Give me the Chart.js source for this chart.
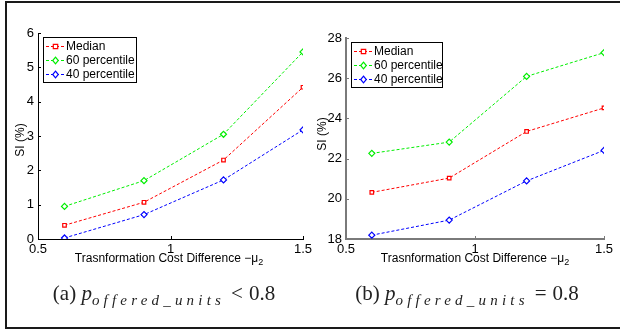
<!DOCTYPE html>
<html>
<head>
<meta charset="utf-8">
<script src="https://cdn.jsdelivr.net/npm/chart.js@4/dist/chart.umd.min.js"></script>
<style>
  html, body { margin:0; padding:0; background:#fff; }
  #wrap { position:relative; width:620px; height:331px; overflow:hidden; font-family:"Liberation Sans", Arial, sans-serif; }
  canvas { position:absolute; top:0; }
  #frame { position:absolute; left:5px; top:1px; width:640px; height:328px; border-top:2px solid #1a1a1a; border-left:2px solid #1a1a1a; border-bottom:2px solid #1a1a1a; box-sizing:border-box; }
  .xt { position:absolute; font-size:12px; color:#000; white-space:nowrap; transform:translateX(-50%); }
  .xt sub { font-size:9px; vertical-align:-3px; }
  .yt { position:absolute; font-size:12px; color:#000; white-space:nowrap; transform:translate(-50%,-50%) rotate(-90deg); }
  .cap { position:absolute; font-family:"Liberation Serif","DejaVu Serif",serif; font-size:21px; color:#222; white-space:nowrap; transform:translateX(-50%); }
  .cap i { font-style:italic; }
  .cap .sb { font-size:15px; font-style:italic; letter-spacing:4.2px; vertical-align:-5px; }
  .cap .op { margin:0 6px; }
</style>
</head>
<body>
<div id="wrap">
  <canvas id="c1" width="330" height="331" style="left:0"></canvas>
  <canvas id="c2" width="320" height="331" style="left:300px"></canvas>
  <div id="frame"></div>
  <div class="yt" style="left:20px; top:140px;">SI (%)</div>
  <div class="yt" style="left:322px; top:134px;">SI (%)</div>
  <div class="xt" style="left:169px; top:251px;">Trasnformation Cost Difference −μ<sub>2</sub></div>
  <div class="xt" style="left:475px; top:251px;">Trasnformation Cost Difference −μ<sub>2</sub></div>
  <div class="cap" style="left:164px; top:281px;">(a) <i>p</i><span class="sb">offered_units</span><span class="op">&lt;</span>0.8</div>
  <div class="cap" style="left:467px; top:281px;">(b) <i>p</i><span class="sb">offered_units</span><span class="op">=</span>0.8</div>
</div>
<script>
// ---- data ----
const xValues = [0.6, 0.9, 1.2, 1.5];
const seriesLabels = ["Median", "60 percentile", "40 percentile"];
const leftMedian = [0.40, 1.07, 2.30, 4.42];
const left60 = [0.95, 1.70, 3.05, 5.45];
const left40 = [0.03, 0.71, 1.72, 3.18];
const rightMedian = [20.32, 21.03, 23.35, 24.52];
const right60 = [22.26, 22.82, 26.09, 27.27];
const right40 = [18.19, 18.94, 20.89, 22.41];
const xTicks = [0.5, 1, 1.5];
const leftYTicks = [0, 1, 2, 3, 4, 5, 6];
const rightYTicks = [18, 20, 22, 24, 26, 28];

const colors = ["#ff0000", "#00ee00", "#0000ff"];
const styles = ["rect", "rectRot", "rectRot"];

function pts(arr) { return xValues.map((x, i) => ({ x: x, y: arr[i] })); }

function makeDatasets(a, b, c) {
  return [a, b, c].map((arr, i) => ({
    label: seriesLabels[i],
    data: pts(arr),
    borderColor: colors[i],
    backgroundColor: "#ffffff",
    borderWidth: 1,
    borderDash: [3, 2],
    pointStyle: styles[i],
    pointRadius: i === 0 ? 2.5 : 3,
    pointBorderColor: colors[i],
    pointBackgroundColor: "#ffffff",
    pointBorderWidth: 1.2,
    tension: 0
  }));
}

const innerTicks = {
  id: "innerTicks",
  afterDraw(chart, args, opts) {
    const ctx = chart.ctx;
    const xs = chart.scales.x, ys = chart.scales.y;
    const a = chart.chartArea;
    ctx.save();
    ctx.strokeStyle = opts.color;
    ctx.lineWidth = 1;
    ctx.beginPath();
    xs.ticks.forEach(t => {
      const px = Math.round(xs.getPixelForValue(t.value)) + 0.5;
      ctx.moveTo(px, a.bottom);
      ctx.lineTo(px, a.bottom - 3);
    });
    ys.ticks.forEach(t => {
      const py = Math.round(ys.getPixelForValue(t.value)) + 0.5;
      ctx.moveTo(a.left, py);
      ctx.lineTo(a.left + 3, py);
    });
    ctx.stroke();
    ctx.restore();
  }
};

function drawMarker(ctx, style, cx, cy, r, color) {
  ctx.beginPath();
  if (style === "rect") {
    ctx.rect(cx - r, cy - r, 2 * r, 2 * r);
  } else {
    ctx.moveTo(cx, cy - r - 0.5);
    ctx.lineTo(cx + r, cy);
    ctx.lineTo(cx, cy + r + 0.5);
    ctx.lineTo(cx - r, cy);
    ctx.closePath();
  }
  ctx.fillStyle = "#ffffff";
  ctx.fill();
  ctx.strokeStyle = color;
  ctx.lineWidth = 1.2;
  ctx.stroke();
}

const boxLegend = {
  id: "boxLegend",
  afterDraw(chart, args, opts) {
    const ctx = chart.ctx;
    const a = chart.chartArea;
    const x0 = a.left + opts.dx, y0 = a.top + opts.dy;
    ctx.save();
    ctx.fillStyle = "#fff";
    ctx.fillRect(x0, y0, opts.w, opts.h);
    ctx.strokeStyle = "#000";
    ctx.lineWidth = 1;
    ctx.setLineDash([]);
    ctx.strokeRect(x0 + 0.5, y0 + 0.5, opts.w, opts.h);
    ctx.font = "12px 'Liberation Sans', Arial, sans-serif";
    ctx.textBaseline = "middle";
    seriesLabels.forEach((label, i) => {
      const yy = y0 + 9 + i * 14;
      ctx.lineWidth = 1;
      ctx.strokeStyle = colors[i];
      ctx.setLineDash([3, 2]);
      ctx.beginPath();
      ctx.moveTo(x0 + 3, yy + 0.5);
      ctx.lineTo(x0 + 22, yy + 0.5);
      ctx.stroke();
      ctx.setLineDash([]);
      drawMarker(ctx, styles[i], x0 + 12.5, yy + 0.5, i === 0 ? 2.2 : 2.8, colors[i]);
      ctx.fillStyle = "#000";
      ctx.fillText(label, x0 + 23, yy + 1);
    });
    ctx.restore();
  }
};

function makeChart(id, datasets, yMin, yMax, yTicks, pad, yWidth, axisColor, axisWidth, legendPos) {
  return new Chart(document.getElementById(id), {
    type: "line",
    data: { datasets: datasets },
    options: {
      responsive: false,
      animation: false,
      events: [],
      layout: { padding: pad },
      plugins: {
        legend: { display: false },
        tooltip: { enabled: false },
        innerTicks: { color: axisColor },
        boxLegend: legendPos
      },
      scales: {
        x: {
          type: "linear", min: 0.5, max: 1.5,
          afterBuildTicks: s => { s.ticks = xTicks.map(v => ({ value: v })); },
          afterFit: s => { s.height = 92; },
          grid: { display: false, drawTicks: false },
          border: { display: true, color: axisColor, width: axisWidth },
          ticks: { color: "#000", font: { family: "'Liberation Sans', Arial, sans-serif", size: 13 }, padding: 3, maxRotation: 0, autoSkip: false,
                   callback: v => String(v) }
        },
        y: {
          type: "linear", min: yMin, max: yMax,
          afterBuildTicks: s => { s.ticks = yTicks.map(v => ({ value: v })); },
          afterFit: s => { s.width = yWidth; },
          grid: { display: false, drawTicks: false },
          border: { display: true, color: axisColor, width: axisWidth },
          ticks: { color: "#000", font: { family: "'Liberation Sans', Arial, sans-serif", size: 13 }, padding: 4, autoSkip: false,
                   callback: v => String(v) }
        }
      }
    },
    plugins: [innerTicks, boxLegend]
  });
}

makeChart("c1", makeDatasets(leftMedian, left60, left40), 0, 6, leftYTicks,
  { left: 0, right: 27, top: 33, bottom: 0 }, 38, "#000", 1,
  { dx: 5, dy: 4, w: 93, h: 45 });
makeChart("c2", makeDatasets(rightMedian, right60, right40), 18, 28, rightYTicks,
  { left: 0, right: 16, top: 38, bottom: 0 }, 46, "#7a7a7a", 2,
  { dx: 5, dy: 4, w: 91, h: 45 });
</script>
</body>
</html>
